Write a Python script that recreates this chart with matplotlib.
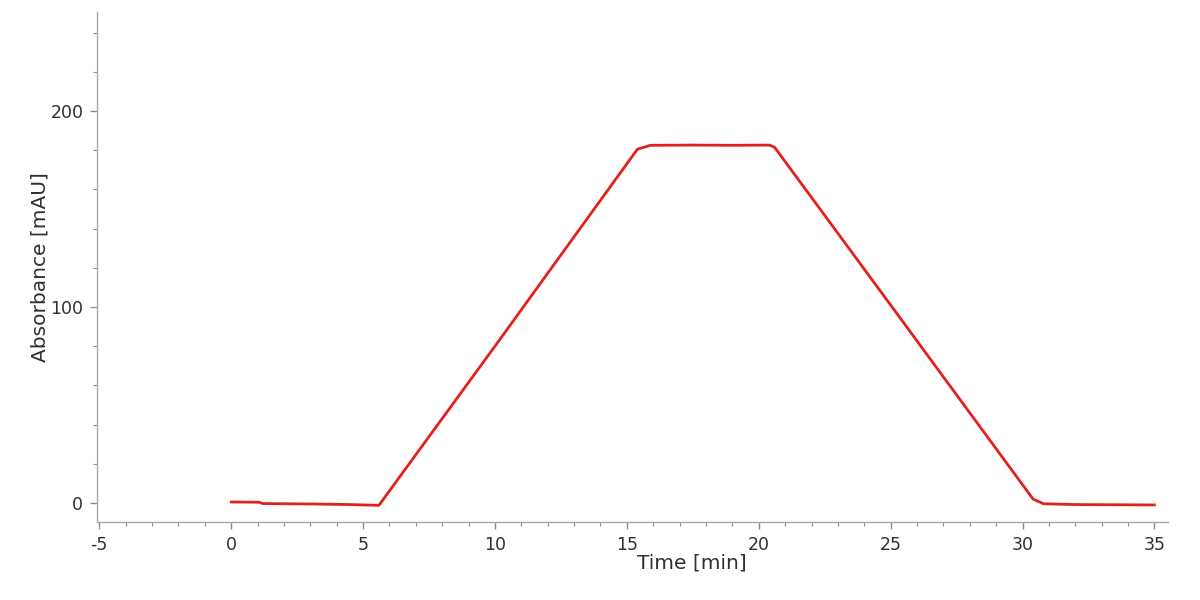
import matplotlib
matplotlib.use("Agg")
import matplotlib.pyplot as plt
from matplotlib.ticker import MultipleLocator

# Data
time_min = [0.0, 1.05, 1.2, 3.0, 4.5, 5.6, 10.0, 15.4, 15.9, 17.5, 19.0, 20.4, 20.6, 25.0, 30.4, 30.8, 32.0, 35.0]
absorbance = [0.5, 0.4, -0.3, -0.5, -0.8, -1.2, 80.0, 180.5, 182.5, 182.6, 182.5, 182.6, 181.5, 101.0, 2.0, -0.4, -0.8, -1.0]

x_ticks = [-5, 0, 5, 10, 15, 20, 25, 30, 35]
y_ticks = [0, 100, 200]

plt.rcParams['font.family'] = ['DejaVu Sans']
plt.rcParams['axes.unicode_minus'] = False

fig = plt.figure(figsize=(12, 6), dpi=100)
ax = fig.add_axes([0.081, 0.13, 0.892, 0.85])

ax.plot(time_min, absorbance, color='#e3201c', lw=2.0, solid_joinstyle='round')

ax.set_xlim(-5.08, 35.5)
ax.set_ylim(-9.7, 250.5)

ax.set_xticks(x_ticks)
ax.set_yticks(y_ticks)
ax.xaxis.set_minor_locator(MultipleLocator(1))
ax.yaxis.set_minor_locator(MultipleLocator(20))

for s in ['top', 'right']:
    ax.spines[s].set_visible(False)
for s in ['left', 'bottom']:
    ax.spines[s].set_color('#a8a8a8')
    ax.spines[s].set_linewidth(1.0)

ax.tick_params(which='major', direction='out', length=5, width=1, color='#8c8c8c',
               labelsize=12.5, labelcolor='#303030', pad=5)
ax.tick_params(which='minor', direction='out', length=3, width=0.8, color='#8c8c8c')

ax.set_xlabel('Time [min]', fontsize=14.5, color='#303030')
ax.set_ylabel('Absorbance [mAU]', fontsize=14.5, color='#303030')
ax.xaxis.set_label_coords(0.556, -0.062)
ax.yaxis.set_label_coords(-0.045, 0.5)

fig.savefig('out.png', dpi=100, facecolor='white')
